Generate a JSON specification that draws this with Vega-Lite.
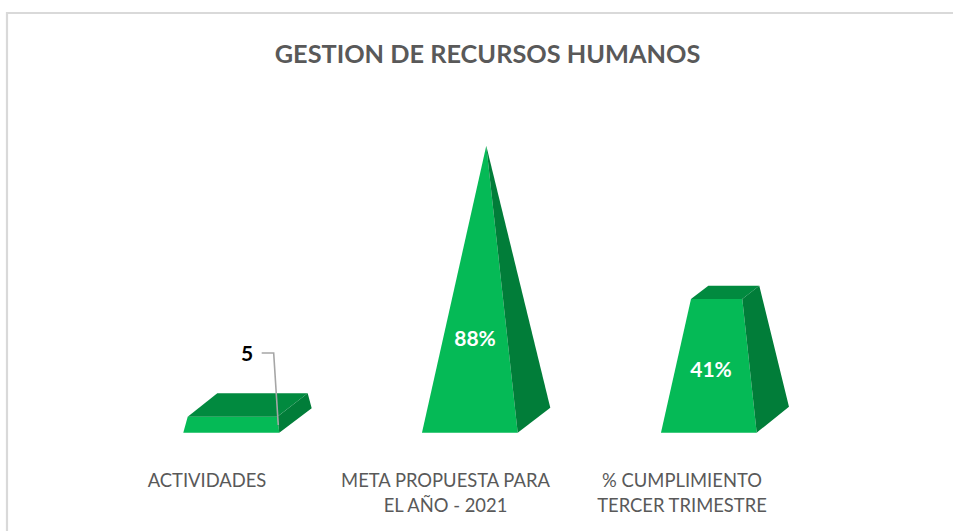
{
  "$schema": "https://vega.github.io/schema/vega-lite/v6.json",
  "width": 953,
  "height": 531,
  "padding": 0,
  "autosize": {"type": "none"},
  "background": "#ffffff",
  "config": {"view": {"stroke": null}},
  "title": {"text": "GESTION DE RECURSOS HUMANOS", "font": "Lato", "fontSize": 25.3, "fontWeight": "bold", "color": "#595959", "frame": "group", "anchor": "middle", "dx": 11, "offset": -80, "baseline": "middle"},
  "datasets": {
    "faces": [
      {"face": "a-front", "part": "front", "x": 0.7958, "y": -3.74, "y2": -3.74},
      {"face": "a-front", "part": "front", "x": 0.8143, "y": 1.38, "y2": -3.74},
      {"face": "a-front", "part": "front", "x": 1.1899, "y": 1.38, "y2": -3.74},
      {"face": "a-front", "part": "front", "x": 1.1983, "y": -3.74, "y2": -3.74},
      {"face": "a-top", "part": "top", "x": 0.8143, "y": 1.38, "y2": 1.38},
      {"face": "a-top", "part": "top", "x": 0.9384, "y": 8.86, "y2": 1.38},
      {"face": "a-top", "part": "top", "x": 1.1899, "y": 8.86, "y2": 1.38},
      {"face": "a-top", "part": "top", "x": 1.3174, "y": 8.86, "y2": 8.86},
      {"face": "a-side", "part": "side", "x": 1.1899, "y": 1.38, "y2": 1.38},
      {"face": "a-side", "part": "side", "x": 1.1983, "y": 1.86, "y2": -3.74},
      {"face": "a-side", "part": "side", "x": 1.3174, "y": 8.86, "y2": 3.10},
      {"face": "a-side", "part": "side", "x": 1.3342, "y": 4.06, "y2": 4.06},
      {"face": "b-front", "part": "front", "x": 1.7966, "y": -3.74, "y2": -3.74},
      {"face": "b-front", "part": "front", "x": 2.0662, "y": 88.1, "y2": -3.74},
      {"face": "b-front", "part": "front", "x": 2.1979, "y": -3.74, "y2": -3.74},
      {"face": "b-side", "part": "side", "x": 2.0662, "y": 88.1, "y2": 88.1},
      {"face": "b-side", "part": "side", "x": 2.1979, "y": 46.98, "y2": -3.74},
      {"face": "b-side", "part": "side", "x": 2.3346, "y": 4.26, "y2": 4.26},
      {"face": "c-front", "part": "front", "x": 2.7987, "y": -3.74, "y2": -3.74},
      {"face": "c-front", "part": "front", "x": 2.9245, "y": 39.04, "y2": -3.74},
      {"face": "c-front", "part": "front", "x": 3.1396, "y": 39.04, "y2": -3.74},
      {"face": "c-front", "part": "front", "x": 3.2, "y": -3.74, "y2": -3.74},
      {"face": "c-top", "part": "top", "x": 2.9245, "y": 39.04, "y2": 39.04},
      {"face": "c-top", "part": "top", "x": 2.9971, "y": 43.3, "y2": 39.04},
      {"face": "c-top", "part": "top", "x": 3.1396, "y": 43.3, "y2": 39.04},
      {"face": "c-top", "part": "top", "x": 3.2109, "y": 43.3, "y2": 43.3},
      {"face": "c-side", "part": "side", "x": 3.1396, "y": 39.04, "y2": 39.04},
      {"face": "c-side", "part": "side", "x": 3.2, "y": 42.66, "y2": -3.74},
      {"face": "c-side", "part": "side", "x": 3.2109, "y": 43.3, "y2": -3.07},
      {"face": "c-side", "part": "side", "x": 3.3354, "y": 4.58, "y2": 4.58}
    ],
    "leader": [
      {"x": 1.1245, "y": 21.76, "o": 1},
      {"x": 1.1748, "y": 21.76, "o": 2},
      {"x": 1.1941, "y": -1.28, "o": 3}
    ],
    "values": [
      {"label": "5", "x": 1.063, "y": 21.1, "kind": "out"},
      {"label": "88%", "x": 2.0189, "y": 26.0, "kind": "in"},
      {"label": "41%", "x": 3.0084, "y": 16.1, "kind": "in"}
    ],
    "cats": [
      {"label": "ACTIVIDADES", "x": 0.8952, "y": -16.3},
      {"label": "META PROPUESTA PARA\nEL AÑO - 2021", "x": 1.8952, "y": -16.3},
      {"label": "% CUMPLIMIENTO\nTERCER TRIMESTRE", "x": 2.8868, "y": -16.3}
    ],
    "frame": [
      {"x": 0.0566, "x2": 4.0231, "y": 130.56, "y2": 130.56},
      {"x": 0.0566, "x2": 0.0566, "y": 130.9, "y2": -35.2}
    ]
  },
  "encoding": {
    "x": {"field": "x", "type": "quantitative", "axis": null, "scale": {"domain": [0.0273, 4.0231], "nice": false, "zero": false}},
    "y": {"field": "y", "type": "quantitative", "axis": null, "scale": {"domain": [-35.2, 134.72], "nice": false, "zero": false}}
  },
  "layer": [
    {
      "data": {"name": "frame"},
      "mark": {"type": "rule", "color": "#d9d9d9", "strokeWidth": 2.2},
      "encoding": {"x2": {"field": "x2"}, "y2": {"field": "y2"}}
    },
    {
      "data": {"name": "faces"},
      "mark": {"type": "area", "interpolate": "linear", "opacity": 1},
      "encoding": {
        "y2": {"field": "y2"},
        "detail": {"field": "face"},
        "color": {"field": "part", "type": "nominal", "legend": null, "scale": {"domain": ["front", "side", "top"], "range": ["#05BA56", "#017D39", "#018A3F"]}}
      }
    },
    {
      "data": {"name": "leader"},
      "mark": {"type": "line", "color": "#a6a6a6", "strokeWidth": 1.6, "interpolate": "linear"},
      "encoding": {"order": {"field": "o", "type": "quantitative"}}
    },
    {
      "data": {"name": "values"},
      "transform": [{"filter": "datum.kind === 'out'"}],
      "mark": {"type": "text", "font": "Lato", "fontSize": 21, "fontWeight": "bold", "align": "center", "baseline": "middle", "color": "#000000"},
      "encoding": {"text": {"field": "label", "type": "nominal"}}
    },
    {
      "data": {"name": "values"},
      "transform": [{"filter": "datum.kind === 'in'"}],
      "mark": {"type": "text", "font": "Lato", "fontSize": 21, "fontWeight": "bold", "align": "center", "baseline": "middle", "color": "#ffffff"},
      "encoding": {"text": {"field": "label", "type": "nominal"}}
    },
    {
      "data": {"name": "cats"},
      "transform": [{"calculate": "split(datum.label, '\\n')", "as": "lines"}],
      "mark": {"type": "text", "font": "Lato", "fontSize": 18.4, "color": "#595959", "align": "center", "baseline": "top", "lineHeight": 25},
      "encoding": {"text": {"field": "lines"}}
    }
  ]
}
